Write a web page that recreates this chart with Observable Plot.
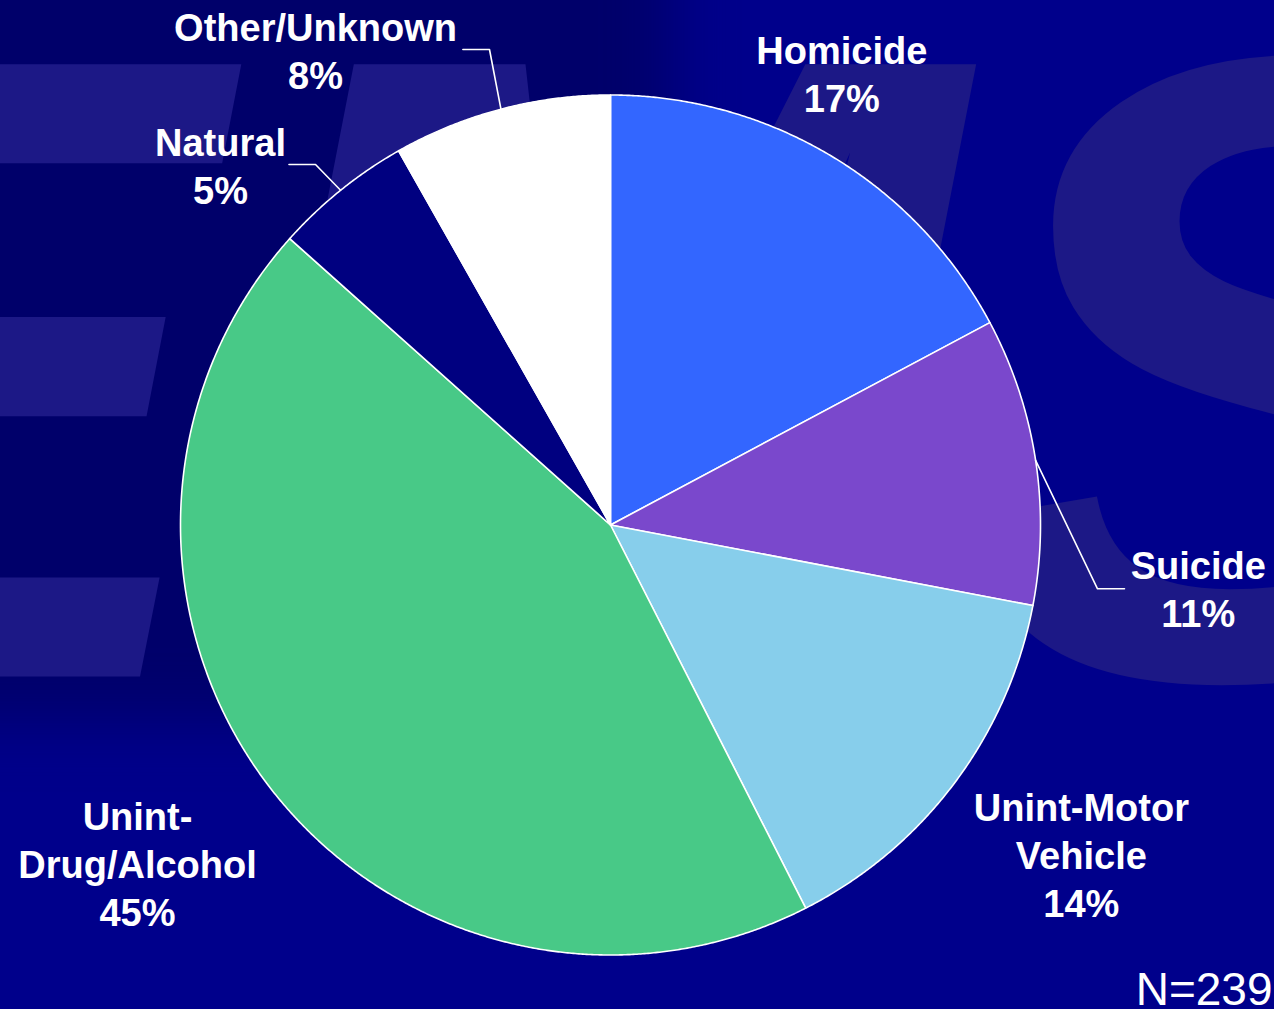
<!DOCTYPE html>
<html><head><meta charset="utf-8">
<script src="https://cdn.jsdelivr.net/npm/d3@7"></script>
<script src="https://cdn.jsdelivr.net/npm/@observablehq/plot@0.6"></script>
<style>
html,body{margin:0;padding:0;background:#00008a;}
#wrap{position:relative;width:1274px;height:1009px;overflow:hidden;background:#00008b;}
#shade{position:absolute;left:-120px;top:-120px;width:790px;height:840px;background:#00006a;filter:blur(30px);}
#chart{position:absolute;left:0;top:0;}
</style></head><body>
<div id="wrap"><div id="shade"></div><div id="chart"></div></div>
<script>
// ---- data ----
const categories = ["Homicide", "Suicide", "Unint-Motor Vehicle", "Unint-Drug/Alcohol", "Natural", "Other/Unknown"];
const shares = [17.2, 10.8, 14.5, 44.1, 5.2, 8.2];           // slice sizes (%)
const percentLabels = ["17%", "11%", "14%", "45%", "5%", "8%"];
const labelNames = ["Homicide", "Suicide", "Unint-Motor\nVehicle", "Unint-\nDrug/Alcohol", "Natural", "Other/Unknown"];
const sampleSize = 239;
const watermark = "EMS";

// ---- style / layout ----
const colors = ["#3366ff", "#7a48cc", "#87ceeb", "#48c987", "#000080", "#ffffff"];
const W = 1274, H = 1009, CX = 610, CY = 524.5, R = 430;
const FONT = "'Liberation Sans', Arial, Helvetica, sans-serif";
// label block centres in pie-radius units (x right, y up, origin = pie centre)
const labelPos = {
  "Homicide": [0.538, 1.051],
  "Suicide": [1.367, -0.145],
  "Unint-Motor Vehicle": [1.095, -0.765],
  "Unint-Drug/Alcohol": [-1.100, -0.785],
  "Natural": [-0.907, 0.837],
  "Other/Unknown": [-0.686, 1.106]
};
// leader elbows/ends (pie-radius units); leaders start on the rim at slice mid-angle
const leaderBends = {
  "Suicide": [[1.1326, -0.1484], [1.1953, -0.1484]],
  "Natural": [[-0.6860, 0.8384], [-0.7477, 0.8384]],
  "Other/Unknown": [[-0.2814, 1.1058], [-0.3433, 1.1058]]
};

const data = categories.map((name, i) => ({name, value: shares[i], label: labelNames[i] + "\n" + percentLabels[i]}));
const arcs = d3.pie().sort(null).value(d => d.value)(data);

const slicePts = [];
for (const a of arcs) {
  const name = a.data.name;
  slicePts.push({name, x: 0, y: 0});
  const steps = Math.max(8, Math.ceil((a.endAngle - a.startAngle) / (Math.PI / 720)));
  for (let k = 0; k <= steps; ++k) {
    const t = a.startAngle + (a.endAngle - a.startAngle) * k / steps;
    slicePts.push({name, x: Math.sin(t), y: Math.cos(t)});
  }
  slicePts.push({name, x: 0, y: 0});
}

const leaderPts = [];
for (const a of arcs) {
  const bends = leaderBends[a.data.name];
  if (!bends) continue;
  const m = (a.startAngle + a.endAngle) / 2;
  leaderPts.push({name: a.data.name, x: Math.sin(m), y: Math.cos(m)});
  for (const [bx, by] of bends) leaderPts.push({name: a.data.name, x: bx, y: by});
}

const labels = data.map(d => ({text: d.label, x: labelPos[d.name][0], y: labelPos[d.name][1]}));

const chart = Plot.plot({
  width: W, height: H,
  margin: 0,
  x: {domain: [-CX / R, (W - CX) / R], axis: null},
  y: {domain: [(CY - H) / R, CY / R], axis: null},
  color: {domain: categories, range: colors},
  style: {background: "transparent", fontFamily: FONT, overflow: "visible"},
  marks: [
    Plot.text([watermark], {
      x: () => (-375 - CX) / R, y: () => (CY - 676) / R, text: d => d,
      textAnchor: "start", lineAnchor: "bottom",
      fontSize: 890, fontWeight: "bold", fontStyle: "italic", fill: "#1c1886"
    }),
    Plot.line(slicePts, {x: "x", y: "y", z: "name", fill: "name", stroke: "white", strokeWidth: 1.6, strokeLinejoin: "round"}),
    Plot.line(leaderPts, {x: "x", y: "y", z: "name", stroke: "white", strokeWidth: 1.6}),
    Plot.text(labels, {
      x: "x", y: "y", text: "text", fill: "white", fontSize: 38, fontWeight: "bold",
      textAnchor: "middle", lineAnchor: "middle", lineHeight: 1.26
    }),
    Plot.text([`N=${sampleSize}`], {
      x: () => (1272 - CX) / R, y: () => (CY - 1004) / R, text: d => d,
      textAnchor: "end", lineAnchor: "bottom", fontSize: 46, fill: "white"
    })
  ]
});
document.getElementById("chart").appendChild(chart);
</script>
</body></html>
